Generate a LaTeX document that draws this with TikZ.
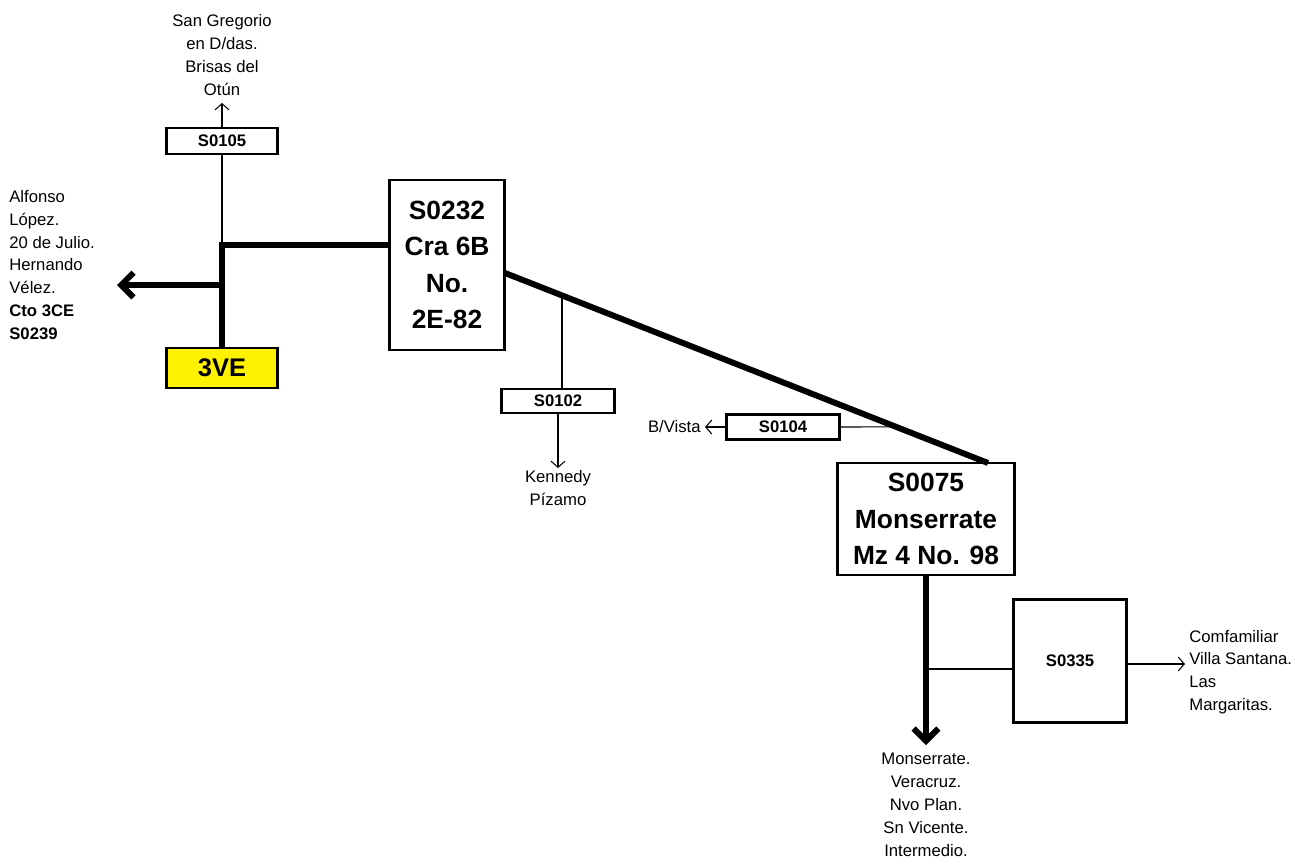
\documentclass[tikz,border=0pt]{standalone}
\usepackage{fontspec}
\setmainfont{Liberation Sans}
\usetikzlibrary{calc,arrows.meta}
\tikzset{
  feeder/.style={line width=3.4pt},
  branch/.style={line width=0.6pt},
  feedarrow/.style={feeder, -{Straight Barb[length=7pt,width=14pt]}},
  brancharrow/.style={branch, -{Straight Barb[length=3.5pt,width=8pt]}},
  sbox/.style={draw, line width=1.3pt, fill=white, inner sep=0pt,
    font=\fontsize{9.5}{12}\selectfont\bfseries},
  bigbox/.style={draw, line width=1.3pt, fill=white, inner sep=0pt, align=center,
    font=\fontsize{15}{20.8}\selectfont\bfseries},
  place/.style={align=center, inner sep=0pt, font=\fontsize{9.5}{13}\selectfont},
}
\begin{document}
\begin{tikzpicture}[x=0.02cm,y=-0.02cm]
  \useasboundingbox (0,0) rectangle (1295,863);
  % substations
  \node[sbox, minimum width=2.22cm, minimum height=0.52cm] (s0105) at (222,141) {S0105};
  \node[sbox, fill=yellow, minimum width=2.22cm, minimum height=0.8cm,
    font=\fontsize{14.5}{16}\selectfont\bfseries] (ve3) at (222,368) {3VE};
  \node[bigbox, minimum width=2.3cm, minimum height=3.4cm] (s0232) at (447,265)
    {S0232\\Cra 6B\\No.\\2E-82};
  \node[sbox, minimum width=2.26cm, minimum height=0.48cm] (s0102) at (558,401) {S0102};
  \node[sbox, minimum width=2.26cm, minimum height=0.5cm] (s0104) at (783,427) {S0104};
  \node[bigbox, minimum width=3.54cm, minimum height=2.24cm] (s0075) at (926,519)
    {S0075\\Monserrate\\Mz 4 No. 98};
  \node[sbox, minimum width=2.26cm, minimum height=2.46cm] (s0335) at (1070,661) {S0335};
  % labels
  \node[place] (gregorio) at (222,55) {San Gregorio\\en D/das.\\Brisas del\\Otún};
  \node[place, align=left, anchor=west] (alfonso) at (9,265)
    {Alfonso\\López.\\20 de Julio.\\Hernando\\Vélez.\\\textbf{Cto 3CE}\\\textbf{S0239}};
  \node[place] (kennedy) at (558,488) {Kennedy\\Pízamo};
  \node[place, anchor=east] (vista) at (701,427) {B/Vista};
  \node[place, align=left, anchor=west] (comfa) at (1189,672)
    {Comfamiliar\\Villa Santana.\\Las\\Margaritas.};
  \node[place] (monse) at (926,805)
    {Monserrate.\\Veracruz.\\Nvo Plan.\\Sn Vicente.\\Intermedio.};
  % junctions and free ends
  \coordinate (j1) at (222,245);
  \coordinate (j2) at (222,285);
  \coordinate (w1) at (117,285);
  \coordinate (d1) at (505,273);
  \coordinate (d2) at (988,463);
  \coordinate (d3) at ($(d1)!0.118!(d2)$);
  \coordinate (d4) at ($(d1)!0.81!(d2)$);
  \coordinate (t1) at (222,103);
  \coordinate (t2) at (558,468);
  \coordinate (t3) at (705,427);
  \coordinate (j5) at (926,669);
  \coordinate (t5) at (926,745);
  \coordinate (t6) at (1185,664);
  % thin branches
  \draw[branch] (s0105.south) -- (j1);
  \draw[brancharrow] (s0105.north) -- (t1);
  \draw[branch] (d3) -- (d3 |- s0102.north);
  \draw[brancharrow] (s0102.south) -- (t2);
  \draw[branch] (s0104.east) -- (d4);
  \draw[brancharrow] (s0104.west) -- (t3);
  \draw[branch] (j5) -- (j5 -| s0335.west);
  \draw[brancharrow] (s0335.east |- t6) -- (t6);
  % main feeder
  \draw[feeder] (ve3.north) -- (j1) -- (j1 -| s0232.west);
  \draw[feedarrow] (j2) -- (w1);
  \draw[feeder] (d1) -- (d2);
  \draw[feedarrow] (s0075.south) -- (t5);
\end{tikzpicture}
\end{document}
